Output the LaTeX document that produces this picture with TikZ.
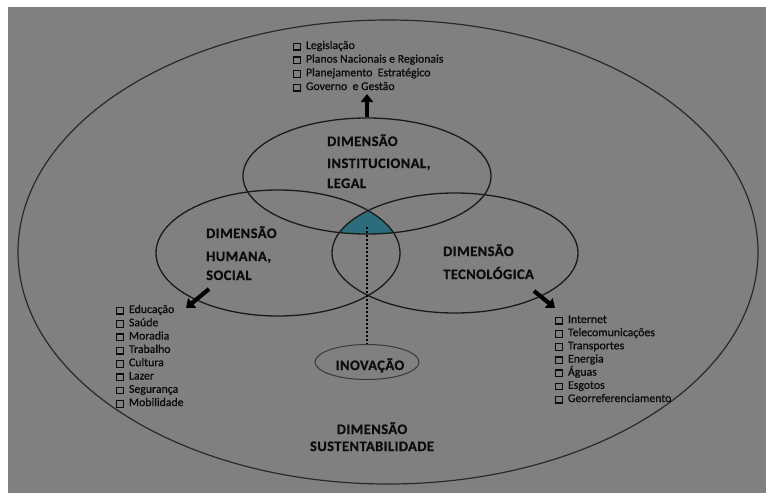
\documentclass[tikz,border=0pt]{standalone}
\usepackage{fontspec}
\setmainfont{Carlito}
\newfontfamily\dimfont[LetterSpace=3.0, FakeBold=0.8]{Carlito}
\newfontfamily\itemfont[FakeBold=0.9]{Carlito}
\usetikzlibrary{shapes.geometric,arrows.meta}
\definecolor{bggray}{RGB}{128,128,128}
\definecolor{lin}{RGB}{26,26,26}
\definecolor{tealfill}{RGB}{44,108,124}
\definecolor{txt}{RGB}{12,12,12}
\newcommand{\cbx}{\raisebox{-0.4pt}{\setlength{\fboxsep}{0pt}\setlength{\fboxrule}{1.2pt}\fbox{\rule{0pt}{5.4pt}\hspace{5.4pt}}}\hspace{5pt}}
\tikzset{
  dimset/.style={ellipse, draw=lin, line width=1.3pt, inner sep=0pt},
  dimlabel/.style={anchor=base west, inner sep=0pt, text=txt, font=\dimfont\bfseries\fontsize{14.5}{17}\selectfont},
  itemtxt/.style={anchor=base west, inner sep=0pt, text=txt, font=\itemfont\fontsize{11.8}{13}\selectfont},
  bigarrow/.style={line width=4.2pt, draw=black, -{Triangle[width=12pt,length=8pt]}},
}
\begin{document}
\begin{tikzpicture}[x=1pt,y=-1pt]
\useasboundingbox (0,0) rectangle (766,493);
\fill[white] (0,0) rectangle (766,493);
\fill[bggray] (8,7) rectangle (766,493);

% outer ellipse
\node[ellipse, draw=lin!85!bggray, line width=1.2pt, minimum width=740pt, minimum height=464pt, inner sep=0pt] (sust) at (388,252) {};

% teal intersection
\begin{scope}
  \clip (367,176) ellipse [x radius=124pt, y radius=58pt];
  \clip (278,253) ellipse [x radius=122pt, y radius=63pt];
  \fill[tealfill] (455,253) ellipse [x radius=123pt, y radius=60pt];
\end{scope}

% three dimension ellipses
\node[dimset, minimum width=248pt, minimum height=116pt] (inst) at (367,176) {};
\node[dimset, minimum width=244pt, minimum height=126pt] (hum) at (278,253) {};
\node[dimset, minimum width=246pt, minimum height=120pt] (tec) at (455,253) {};

% innovation
\node[ellipse, draw=lin!70!bggray, line width=1pt, minimum width=104pt, minimum height=35pt, inner sep=0pt] (inov) at (367,362) {};
\node[anchor=base, inner sep=0pt, text=txt, font=\dimfont\bfseries\fontsize{14.5}{17}\selectfont] (inovtxt) at (370,370) {INOVAÇÃO};
\coordinate (dotstart) at (367,227);
\draw[line width=2.3pt, dash pattern=on 2pt off 2pt, draw=black] (dotstart) -- (inov.north);

% labels
\node[dimlabel] (i1) at (327,146) {DIMENSÃO};
\node[dimlabel] (i2) at (327,168) {INSTITUCIONAL,};
\node[dimlabel] (i3) at (327,188) {LEGAL};
\node[dimlabel] (h1) at (206,238) {DIMENSÃO};
\node[dimlabel] (h2) at (206,261) {HUMANA,};
\node[dimlabel] (h3) at (206,280) {SOCIAL};
\node[dimlabel] (k1) at (443,256) {DIMENSÃO};
\node[dimlabel] (k2) at (443,279) {TECNOLÓGICA};
\node[dimlabel, anchor=base] (s1) at (372,434) {DIMENSÃO};
\node[dimlabel, anchor=base] (s2) at (372,451) {SUSTENTABILIDADE};

% arrows
\coordinate (toptip) at (367,94);
\draw[bigarrow] (inst.north) -- (toptip);
\coordinate (lstart) at (209,289);
\coordinate (ltip) at (186,308);
\draw[bigarrow] (lstart) -- (ltip);
\coordinate (rstart) at (534,291);
\coordinate (rtip) at (555,308);
\draw[bigarrow] (rstart) -- (rtip);

% lists
\foreach \t [count=\i] in {Legislação, Planos Nacionais e Regionais, Planejamento~ Estratégico, Governo~ e Gestão}
  \node[itemtxt] (tl\i) at (293, {49+13.67*(\i-1)}) {\cbx\t};
\foreach \t [count=\i] in {Educação, Saúde, Moradia, Trabalho, Cultura, Lazer, Segurança, Mobilidade}
  \node[itemtxt] (hl\i) at (116, {313+13.3*(\i-1)}) {\cbx\t};
\foreach \t [count=\i] in {Internet, Telecomunicações, Transportes, Energia, Águas, Esgotos, Georreferenciamento}
  \node[itemtxt] (kl\i) at (555, {323+13.17*(\i-1)}) {\cbx\t};
\end{tikzpicture}
\end{document}
